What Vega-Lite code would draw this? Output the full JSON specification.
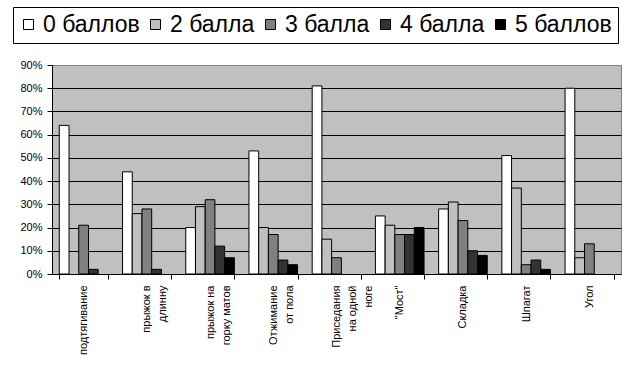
{
  "$schema": "https://vega.github.io/schema/vega-lite/v6.json",
  "width": 569,
  "height": 209,
  "autosize": {"type": "none"},
  "padding": {"left": 52, "top": 65, "right": 14, "bottom": 106},
  "background": "white",
  "data": {
    "values": [
      {"test": "подтягивание", "score": "0 баллов", "pct": 64},
      {"test": "подтягивание", "score": "3 балла", "pct": 21},
      {"test": "подтягивание", "score": "4 балла", "pct": 2},
      {"test": "прыжок в|длинну", "score": "0 баллов", "pct": 44},
      {"test": "прыжок в|длинну", "score": "2 балла", "pct": 26},
      {"test": "прыжок в|длинну", "score": "3 балла", "pct": 28},
      {"test": "прыжок в|длинну", "score": "4 балла", "pct": 2},
      {"test": "прыжок на|горку матов", "score": "0 баллов", "pct": 20},
      {"test": "прыжок на|горку матов", "score": "2 балла", "pct": 29},
      {"test": "прыжок на|горку матов", "score": "3 балла", "pct": 32},
      {"test": "прыжок на|горку матов", "score": "4 балла", "pct": 12},
      {"test": "прыжок на|горку матов", "score": "5 баллов", "pct": 7},
      {"test": "Отжимание|от пола", "score": "0 баллов", "pct": 53},
      {"test": "Отжимание|от пола", "score": "2 балла", "pct": 20},
      {"test": "Отжимание|от пола", "score": "3 балла", "pct": 17},
      {"test": "Отжимание|от пола", "score": "4 балла", "pct": 6},
      {"test": "Отжимание|от пола", "score": "5 баллов", "pct": 4},
      {"test": "Приседания|на одной|ноге", "score": "0 баллов", "pct": 81},
      {"test": "Приседания|на одной|ноге", "score": "2 балла", "pct": 15},
      {"test": "Приседания|на одной|ноге", "score": "3 балла", "pct": 7},
      {"test": "\"Мост\"", "score": "0 баллов", "pct": 25},
      {"test": "\"Мост\"", "score": "2 балла", "pct": 21},
      {"test": "\"Мост\"", "score": "3 балла", "pct": 17},
      {"test": "\"Мост\"", "score": "4 балла", "pct": 17},
      {"test": "\"Мост\"", "score": "5 баллов", "pct": 20},
      {"test": "Складка", "score": "0 баллов", "pct": 28},
      {"test": "Складка", "score": "2 балла", "pct": 31},
      {"test": "Складка", "score": "3 балла", "pct": 23},
      {"test": "Складка", "score": "4 балла", "pct": 10},
      {"test": "Складка", "score": "5 баллов", "pct": 8},
      {"test": "Шпагат", "score": "0 баллов", "pct": 51},
      {"test": "Шпагат", "score": "2 балла", "pct": 37},
      {"test": "Шпагат", "score": "3 балла", "pct": 4},
      {"test": "Шпагат", "score": "4 балла", "pct": 6},
      {"test": "Шпагат", "score": "5 баллов", "pct": 2},
      {"test": "Угол", "score": "0 баллов", "pct": 80},
      {"test": "Угол", "score": "2 балла", "pct": 7},
      {"test": "Угол", "score": "3 балла", "pct": 13}
    ]
  },
  "mark": {"type": "bar", "stroke": "black", "strokeWidth": 1},
  "encoding": {
    "x": {
      "field": "test",
      "type": "nominal",
      "sort": null,
      "scale": {"paddingInner": 0.2308, "paddingOuter": 0.1154},
      "axis": {
        "title": null,
        "labelAngle": -90,
        "labelExpr": "split(datum.label, '|')",
        "labelFont": "Liberation Sans",
        "labelFontSize": 11,
        "labelColor": "black",
        "labelLineHeight": 16,
        "labelPadding": 6,
        "tickBand": "extent",
        "tickSize": 5,
        "tickColor": "black",
        "domainColor": "black",
        "labelLimit": 200
      }
    },
    "xOffset": {
      "field": "score",
      "type": "nominal",
      "scale": {"domain": ["0 баллов", "2 балла", "3 балла", "4 балла", "5 баллов"], "paddingInner": 0, "paddingOuter": 0}
    },
    "y": {
      "field": "pct",
      "type": "quantitative",
      "scale": {"domain": [0, 90], "nice": false},
      "axis": {
        "title": null,
        "values": [0, 10, 20, 30, 40, 50, 60, 70, 80, 90],
        "labelExpr": "datum.value + '%'",
        "labelFont": "Liberation Sans",
        "labelFontSize": 11,
        "labelColor": "black",
        "labelPadding": 5,
        "tickSize": 5,
        "tickColor": "black",
        "domainColor": "black",
        "grid": true,
        "gridColor": {"condition": {"test": "datum.value >= 90", "value": "#808080"}, "value": "black"},
        "gridOpacity": 1
      }
    },
    "color": {
      "field": "score",
      "type": "nominal",
      "scale": {
        "domain": ["0 баллов", "2 балла", "3 балла", "4 балла", "5 баллов"],
        "range": ["#FFFFFF", "#C0C0C0", "#808080", "#333333", "#000000"]
      },
      "legend": {
        "title": null,
        "orient": "none",
        "legendX": -39,
        "legendY": -58,
        "direction": "horizontal",
        "columns": 5,
        "gridAlign": "none",
        "symbolType": "square",
        "symbolSize": 100,
        "symbolOffset": -2,
        "symbolStrokeColor": "black",
        "symbolStrokeWidth": 1,
        "symbolOpacity": 1,
        "labelFont": "Liberation Sans",
        "labelFontSize": 23,
        "labelColor": "black",
        "labelOffset": 3,
        "columnPadding": 6,
        "labelLimit": 200,
        "strokeColor": "black",
        "padding": 6
      }
    }
  },
  "config": {
    "view": {"fill": "#C0C0C0", "stroke": "#808080", "strokeWidth": 1},
    "axis": {"domainWidth": 1, "tickWidth": 1, "gridWidth": 1}
  }
}
